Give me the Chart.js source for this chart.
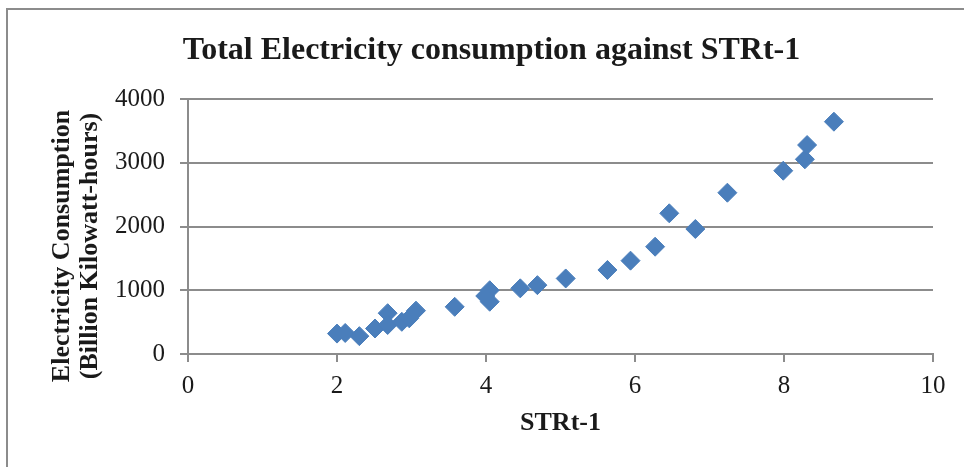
<!DOCTYPE html>
<html>
<head>
<meta charset="utf-8">
<script src="https://cdn.jsdelivr.net/npm/chart.js@4/dist/chart.umd.min.js"></script>
<style>
  html, body { margin: 0; padding: 0; background: #fff; overflow: hidden; }
  #marco { position: absolute; left: 6px; top: 8px; width: 2000px; height: 1000px;
           border-left: 2px solid #8c8c8c; border-top: 2px solid #8c8c8c; }
  #caja { position: absolute; left: 0; top: 0; width: 964px; height: 467px; }
</style>
</head>
<body>
<div id="marco"></div>
<div id="caja"><canvas id="grafico" width="964" height="467"></canvas></div>
<script>
// valores
var strt = [2.00, 2.11, 2.30, 2.51, 2.68, 2.68, 2.87, 2.97, 3.06, 3.58, 3.99, 4.05, 4.05,
            4.46, 4.69, 5.07, 5.63, 5.94, 6.27, 6.46, 6.81, 7.24, 7.99, 8.28, 8.31, 8.67];
var consumo = [320, 330, 280, 400, 640, 455, 505, 560, 680, 740, 910, 1000, 820,
               1030, 1080, 1185, 1318, 1464, 1683, 2207, 1961, 2530, 2875, 3054, 3278, 3644];
var ticksY = [0, 1000, 2000, 3000, 4000];
var ticksX = [0, 2, 4, 6, 8, 10];
var tituloY = ['Electricity Consumption', '(Billion Kilowatt-hours)'];

var colorPunto = '#4a7ebb';
var gris = '#8c8c8c';
var fuente = '"Liberation Serif", "Times New Roman", serif';

var puntos = strt.map(function (x, i) { return {x: x, y: consumo[i]}; });

// titulo del eje Y en dos lineas giradas
var tituloEjeY = {
    id: 'tituloEjeY',
    afterDraw: function (chart) {
        var ctx = chart.ctx;
        var xs = [62, 90];
        ctx.save();
        ctx.font = 'bold 26px ' + fuente;
        ctx.fillStyle = '#1a1a1a';
        ctx.textAlign = 'center';
        ctx.textBaseline = 'middle';
        for (var i = 0; i < tituloY.length; i++) {
            ctx.save();
            ctx.translate(xs[i], 246);
            ctx.rotate(-Math.PI / 2);
            ctx.fillText(tituloY[i], 0, 0);
            ctx.restore();
        }
        ctx.restore();
    }
};

new Chart(document.getElementById('grafico'), {
    type: 'scatter',
    data: {
        datasets: [{
            data: puntos,
            pointStyle: 'rectRot',
            pointRadius: 9.5,
            pointHoverRadius: 9.5,
            borderWidth: 1,
            backgroundColor: colorPunto,
            borderColor: colorPunto
        }]
    },
    options: {
        responsive: false,
        animation: false,
        layout: { padding: { left: 50, right: 31, top: 0, bottom: 0 } },
        plugins: {
            legend: { display: false },
            tooltip: { enabled: false },
            title: {
                display: true,
                text: 'Total Electricity consumption against STRt-1',
                color: '#1a1a1a',
                font: { family: fuente, size: 32, weight: 'bold' },
                padding: { top: 32, bottom: 28.6 }
            }
        },
        scales: {
            x: {
                type: 'linear',
                min: 0,
                max: 10,
                afterBuildTicks: function (s) { s.ticks = ticksX.map(function (v) { return {value: v}; }); },
                afterFit: function (s) { s.height = 113; },
                grid: { drawOnChartArea: false, drawTicks: true, tickLength: 8, color: gris, lineWidth: 2 },
                border: { color: gris, width: 2 },
                ticks: { color: '#1a1a1a', padding: 9, font: { family: fuente, size: 25 },
                         callback: function (v) { return String(v); } },
                title: {
                    display: true,
                    text: 'STRt-1',
                    color: '#1a1a1a',
                    font: { family: fuente, size: 26, weight: 'bold' },
                    padding: { top: 0, bottom: 28 }
                }
            },
            y: {
                min: 0,
                max: 4000,
                afterBuildTicks: function (s) { s.ticks = ticksY.map(function (v) { return {value: v}; }); },
                afterFit: function (s) { s.width = 188 - 50; },
                grid: { drawTicks: true, tickLength: 8, color: gris, lineWidth: 2 },
                border: { color: gris, width: 2 },
                ticks: { color: '#1a1a1a', padding: 15, font: { family: fuente, size: 25 },
                         callback: function (v) { return String(v); } }
            }
        }
    },
    plugins: [tituloEjeY]
});
</script>
</body>
</html>
